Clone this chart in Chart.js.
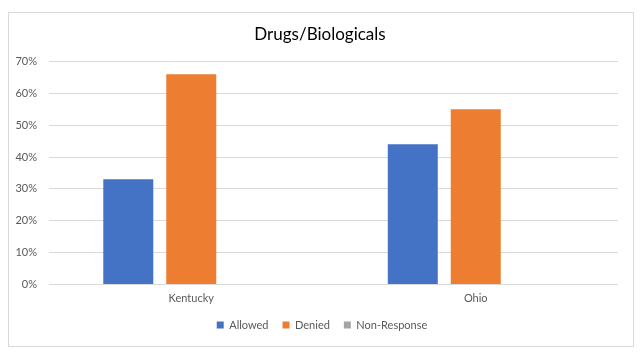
<!DOCTYPE html>
<html>
<head>
<meta charset="utf-8">
<script src="https://cdn.jsdelivr.net/npm/chart.js@4/dist/chart.umd.min.js"></script>
<style>
  html, body { margin: 0; padding: 0; background: #fff; }
  #wrap { position: absolute; left: 0; top: 0; width: 644px; height: 354px; }
  #frame { position: absolute; left: 8px; top: 12px; width: 624px; height: 333px; border: 1px solid #d9d9d9; pointer-events: none; }
</style>
</head>
<body>
<div id="wrap">
  <canvas id="myBarChart" width="644" height="354"></canvas>
  <div id="frame"></div>
</div>
<script>
const categories = ['Kentucky', 'Ohio'];
const allowed = [33, 44];
const denied = [66, 55];
const nonResponse = [0, 0];
const yTicks = [0, 10, 20, 30, 40, 50, 60, 70];

const fontFamily = 'Lato, "Open Sans", sans-serif';

// title and legend are centred on the whole frame, not on the plot area
const centerOnFrame = {
    id: 'centerOnFrame',
    afterLayout(chart) {
        if (chart.titleBlock) { chart.titleBlock.left += 5; chart.titleBlock.right += 5; }
        if (chart.legend) { chart.legend.left += 7; chart.legend.right += 7; }
    }
};

const ctx = document.getElementById('myBarChart').getContext('2d');
const myBarChart = new Chart(ctx, {
    type: 'bar',
    data: {
        labels: categories,
        datasets: [
            { label: 'Allowed', data: allowed, backgroundColor: '#4472C4' },
            { label: 'Denied', data: denied, backgroundColor: '#ED7D31' },
            { label: 'Non-Response', data: nonResponse, backgroundColor: '#A5A5A5' }
        ]
    },
    options: {
        responsive: false,
        animation: false,
        layout: { padding: { top: 12, left: 12, right: 26, bottom: 13.5 } },
        datasets: {
            bar: { categoryPercentage: 0.664, barPercentage: 0.794 }
        },
        scales: {
            x: {
                grid: { display: false, drawTicks: false },
                border: { display: false },
                afterFit: (axis) => { axis.height = 21; },
                ticks: { color: '#595959', font: { family: fontFamily, size: 11 }, padding: 7 }
            },
            y: {
                min: 0,
                max: 70,
                afterBuildTicks: (axis) => { axis.ticks = yTicks.map(v => ({ value: v })); },
                afterFit: (axis) => { axis.width = 37; },
                grid: { color: '#d9d9d9', drawTicks: false },
                border: { display: false },
                ticks: {
                    color: '#595959',
                    font: { family: fontFamily, size: 11 },
                    padding: 12,
                    callback: (v) => v + '%'
                }
            }
        },
        plugins: {
            title: {
                display: true,
                text: 'Drugs/Biologicals',
                color: '#000',
                font: { family: fontFamily, size: 17, weight: 'normal' },
                padding: { top: 12, bottom: 17 }
            },
            legend: {
                position: 'bottom',
                labels: {
                    color: '#595959',
                    font: { family: fontFamily, size: 11 },
                    boxWidth: 7,
                    boxHeight: 7,
                    padding: 14
                }
            },
            tooltip: { enabled: false }
        }
    },
    plugins: [centerOnFrame]
});
</script>
</body>
</html>
